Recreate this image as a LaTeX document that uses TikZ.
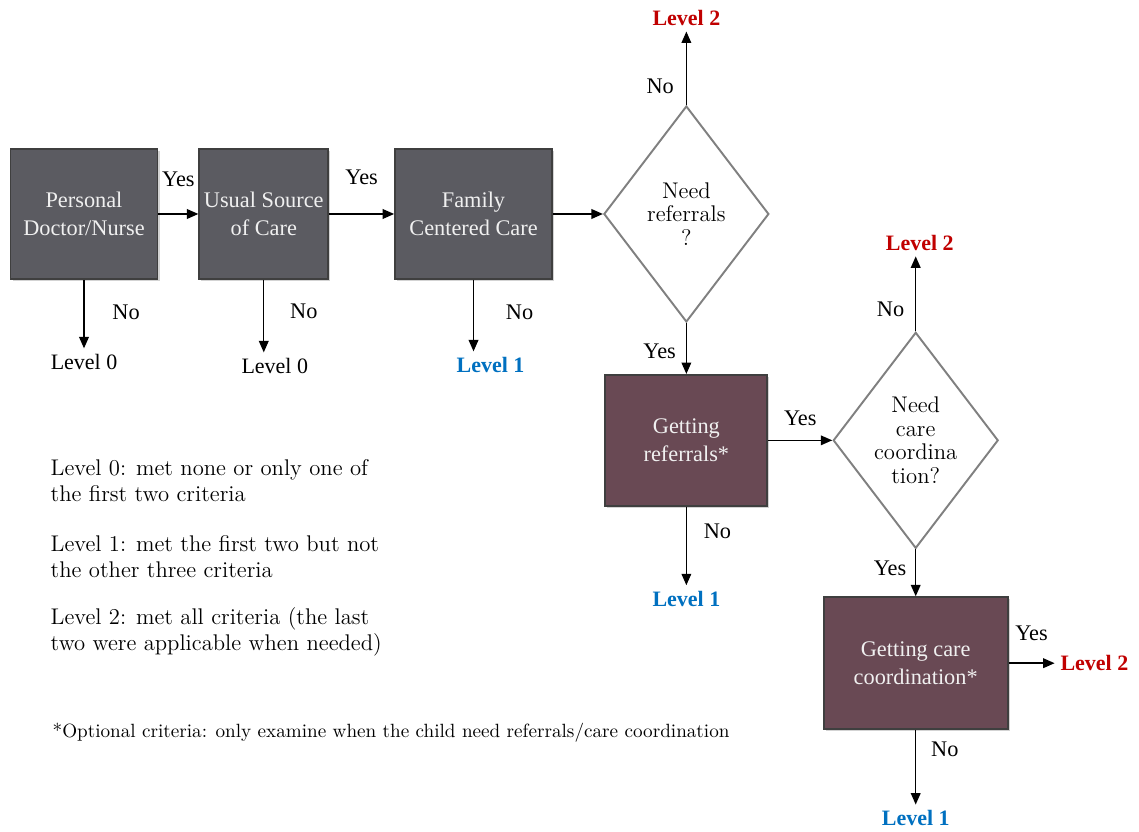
\documentclass[tikz,border=0pt]{standalone}
\usepackage{fontspec}
\newfontfamily\timesfont{Liberation Serif}
\usetikzlibrary{positioning, arrows.meta, shapes.geometric, shadows}

\definecolor{slate}{HTML}{5B5B61}
\definecolor{plum}{HTML}{694954}
\definecolor{rim}{HTML}{3F3F3F}
\definecolor{lvlblue}{HTML}{0070C0}
\definecolor{lvlred}{HTML}{C00000}

\begin{document}
\begin{tikzpicture}[
    >={Triangle[length=6.5pt,width=5.5pt]},
    thick,
    % Styles for the criteria boxes and the decisions
    criterion/.style={rectangle, draw=rim, line width=1pt, fill=slate, text=white!94!black, minimum height=2.6cm, inner sep=2pt, align=center, font=\timesfont\fontsize{12.7}{15.9}\selectfont, drop shadow={shadow xshift=1.2pt, shadow yshift=-1.2pt, opacity=0.35}},
    optional/.style={criterion, fill=plum},
    decision/.style={diamond, draw=gray, line width=1.1pt, fill=white, minimum width=3.3cm, minimum height=4.32cm, shape aspect=0.76, inner sep=1pt, align=center, font=\fontsize{12.9}{13.5}\selectfont},
    % Styles for the outcomes and the edge labels
    outcome/.style={inner sep=3pt, font=\timesfont\fontsize{12.5}{15}\selectfont},
    lvlone/.style={outcome, text=lvlblue, font=\timesfont\bfseries\fontsize{12.5}{15}\selectfont},
    lvltwo/.style={outcome, text=lvlred, font=\timesfont\bfseries\fontsize{12.5}{15}\selectfont},
    lbl/.style={inner sep=1pt, font=\timesfont\fontsize{12.7}{15}\selectfont},
    legend/.style={inner sep=0pt, anchor=west, align=left, font=\fontsize{12.9}{14.8}\selectfont}
]
  \useasboundingbox (0,0) rectangle (22.78,-16.64);

  % --- ROW 1: REQUIRED CRITERIA ---
  \node[criterion, minimum width=2.94cm] (doctor) at (1.68,-4.28) {Personal\\Doctor/Nurse};
  \node[criterion, minimum width=2.58cm, right=0.8cm of doctor] (source) {Usual Source\\of Care};
  \node[criterion, minimum width=3.14cm, right=1.3cm of source] (family) {Family\\Centered Care};
  \node[decision, right=1.0cm of family] (needref) {Need\\referrals\\?};

  % --- OPTIONAL CRITERIA ---
  \node[optional, minimum width=3.24cm, minimum height=2.62cm, below=1.02cm of needref] (referral) {Getting\\referrals*};
  \node[decision, right=1.28cm of referral] (needcoord) {Need\\care\\coordina\\tion?};
  \node[optional, minimum width=3.68cm, minimum height=2.64cm, below=0.94cm of needcoord] (coord) {Getting care\\coordination*};

  % --- OUTCOMES ---
  \node[outcome, below=1.37cm of doctor] (zeroA) {Level 0};
  \node[outcome, below=1.45cm of source, xshift=0.22cm] (zeroB) {Level 0};
  \node[lvlone, below=1.43cm of family, xshift=0.34cm] (oneA) {Level 1};
  \node[lvltwo, above=1.47cm of needref] (twoA) {Level 2};
  \node[lvlone, below=1.57cm of referral] (oneB) {Level 1};
  \node[lvltwo, above=1.5cm of needcoord, xshift=0.08cm] (twoB) {Level 2};
  \node[lvltwo, right=0.92cm of coord] (twoC) {Level 2};
  \node[lvlone, below=1.49cm of coord] (oneC) {Level 1};

  % --- EDGES ---
  \draw[->] (doctor) -- (source) node[lbl, midway, above=0.5cm] {Yes};
  \draw[->] (source) -- (family) node[lbl, midway, above=0.53cm] {Yes};
  \draw[->] (family) -- (needref);
  \draw[->] (needref) -- (referral) node[lbl, pos=0.56, left=0.16cm] {Yes};
  \draw[->] (referral) -- (needcoord) node[lbl, midway, above=0.25cm] {Yes};
  \draw[->] (needcoord) -- (coord) node[lbl, pos=0.41, left=0.14cm] {Yes};
  \draw[->] (coord) -- (twoC) node[lbl, midway, above=0.41cm] {Yes};

  \draw[->] (doctor.south) -- (doctor.south |- zeroA.north) node[lbl, pos=0.47, right=0.52cm] {No};
  \draw[->] (source.south) -- (source.south |- zeroB.north) node[lbl, pos=0.44, right=0.48cm] {No};
  \draw[->] (family.south) -- (family.south |- oneA.north) node[lbl, pos=0.45, right=0.6cm] {No};
  \draw[->] (needref.north) -- (needref.north |- twoA.south) node[lbl, pos=0.26, left=0.2cm] {No};
  \draw[->] (referral.south) -- (referral.south |- oneB.north) node[lbl, pos=0.31, right=0.3cm] {No};
  \draw[->] (needcoord.north) -- (needcoord.north |- twoB.south) node[lbl, pos=0.3, left=0.18cm] {No};
  \draw[->] (coord.south) -- (coord.south |- oneC.north) node[lbl, pos=0.26, right=0.26cm] {No};

  % --- LEGEND ---
  \node[legend] (legzero) at (1.0,-9.62) {Level 0: met none or only one of\\the first two criteria};
  \node[legend] (legone) at (1.0,-11.14) {Level 1: met the first two but not\\the other three criteria};
  \node[legend] (legtwo) at (1.0,-12.63) {Level 2: met all criteria (the last\\two were applicable when needed)};
  \node[legend, font=\fontsize{10.9}{12}\selectfont] (optnote) at (1.04,-14.66) {*Optional criteria: only examine when the child need referrals/care coordination};

\end{tikzpicture}
\end{document}
